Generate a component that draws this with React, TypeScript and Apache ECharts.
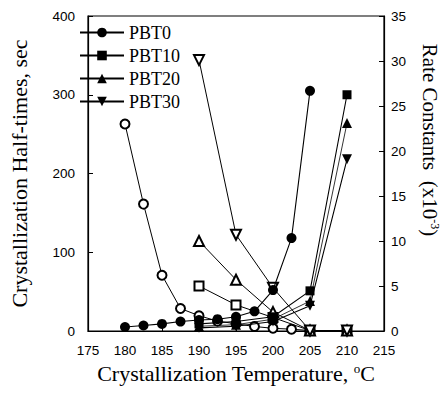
import React, { useEffect, useRef } from "react";
import * as echarts from "echarts";

// Crystallization temperatures (°C)
const tempsPBT0 = [180, 182.5, 185, 187.5, 190, 192.5, 195, 197.5, 200, 202.5, 205];
const tempsBlend = [190, 195, 200, 205, 210];

// Half-times (sec), left axis
const halfPBT0 = [5, 7, 9, 12, 14, 15, 18, 25, 52, 118, 305];
const halfPBT10 = [9, 12, 18, 51, 300];
const halfPBT20 = [6, 8, 15, 38, 264];
const halfPBT30 = [4, 6, 12, 32, 218];

// Rate constants (x10^-3), right axis
const ratePBT0 = [23.0, 14.1, 6.2, 2.5, 1.7, 1.1, 0.8, 0.5, 0.3, 0.2, 0.05];
const ratePBT10 = [5.0, 2.9, 1.5, 0.05, 0.05];
const ratePBT20 = [10.0, 5.7, 2.1, 0.05, 0.05];
const ratePBT30 = [30.1, 10.7, 4.8, 0.05, 0.05];

const seriesNames = ["PBT0", "PBT10", "PBT20", "PBT30"];
const xTicks = { min: 175, max: 215, interval: 5 };
const leftTicks = { min: 0, max: 400, interval: 100 };
const rightTicks = { min: 0, max: 35, interval: 5 };

const pairs = (xs: number[], ys: number[]) => xs.map((x, i) => [x, ys[i]]);

export default function App() {
  const ref = useRef<HTMLDivElement>(null);

  useEffect(() => {
    if (!ref.current) return;
    const chart = echarts.init(ref.current, undefined, { renderer: "svg" });

    const serif = "Liberation Serif";
    const sans = "Liberation Sans";

    const filled = (name: string, xs: number[], ys: number[], symbol: string, size: number, rotate = 0, width = 1.1) => ({
      name,
      type: "line",
      yAxisIndex: 0,
      data: pairs(xs, ys),
      symbol,
      symbolSize: size,
      symbolRotate: rotate,
      showSymbol: true,
      lineStyle: { color: "#000", width },
      itemStyle: { color: "#000", borderColor: "#000", borderWidth: 0 },
      z: 3,
    });

    const open = (name: string, xs: number[], ys: number[], symbol: string, size: number, rotate = 0) => ({
      name,
      type: "line",
      yAxisIndex: 1,
      data: pairs(xs, ys),
      symbol,
      symbolSize: size,
      symbolRotate: rotate,
      showSymbol: true,
      lineStyle: { color: "#000", width: 1 },
      itemStyle: { color: "#000", borderColor: "#000", borderWidth: 1 },
      z: 2,
    });

    chart.setOption({
      animation: false,
      backgroundColor: "#fff",
      grid: { left: 69, right: 61, top: 16, bottom: 64, show: true, borderColor: "#000", borderWidth: 1.2, backgroundColor: "transparent" },
      legend: {
        data: seriesNames,
        orient: "vertical",
        left: 74,
        top: 18,
        itemWidth: 44,
        itemHeight: 12,
        itemGap: 4,
        textStyle: { fontFamily: serif, fontSize: 18, color: "#000", lineHeight: 19 },
        selectedMode: false,
      },
      xAxis: {
        type: "value",
        min: xTicks.min,
        max: xTicks.max,
        interval: xTicks.interval,
        name: "Crystallization Temperature, {sup|o}C",
        nameLocation: "middle",
        nameGap: 25,
        nameTextStyle: {
          fontFamily: serif,
          fontSize: 22,
          color: "#000",
          rich: { sup: { fontFamily: serif, fontSize: 13, color: "#000", verticalAlign: "top", padding: [0, 0, 10, 0] } },
        },
        axisLine: { lineStyle: { color: "#000", width: 1.2 } },
        axisTick: { inside: true, length: 5, lineStyle: { color: "#000" } },
        axisLabel: { fontFamily: sans, fontSize: 13.5, color: "#000", margin: 12 },
        splitLine: { show: false },
      },
      yAxis: [
        {
          type: "value",
          position: "left",
          min: leftTicks.min,
          max: leftTicks.max,
          interval: leftTicks.interval,
          name: "Crystallization Half-times, sec",
          nameLocation: "middle",
          nameGap: 58,
          nameTextStyle: { fontFamily: serif, fontSize: 22, color: "#000" },
          axisLine: { show: true, lineStyle: { color: "#000", width: 1.2 } },
          axisTick: { show: true, inside: true, length: 5, lineStyle: { color: "#000" } },
          axisLabel: { fontFamily: sans, fontSize: 13.5, color: "#000", margin: 13 },
          splitLine: { show: false },
        },
        {
          type: "value",
          position: "right",
          min: rightTicks.min,
          max: rightTicks.max,
          interval: rightTicks.interval,
          axisLine: { show: true, lineStyle: { color: "#000", width: 1.2 } },
          axisTick: { show: true, inside: true, length: 5, lineStyle: { color: "#000" } },
          axisLabel: { fontFamily: sans, fontSize: 13.5, color: "#000", margin: 7 },
          splitLine: { show: false },
        },
      ],
      graphic: [
        {
          type: "text",
          x: 430,
          y: 140,
          rotation: -Math.PI / 2,
          style: {
            text: "Rate Constants  (x10{sup|-3})",
            fontFamily: serif,
            fontSize: 21,
            fill: "#000",
            align: "center",
            verticalAlign: "middle",
            rich: { sup: { fontFamily: serif, fontSize: 12, fill: "#000", verticalAlign: "top", padding: [0, 0, 10, 0] } },
          },
        },
      ],
      series: [
        filled("PBT0", tempsPBT0, halfPBT0, "circle", 10),
        filled("PBT10", tempsBlend, halfPBT10, "rect", 9),
        filled("PBT20", tempsBlend, halfPBT20, "triangle", 10, 0, 0.8),
        filled("PBT30", tempsBlend, halfPBT30, "triangle", 10, 180),
        open("k PBT0", tempsPBT0, ratePBT0, "emptyCircle", 9),
        open("k PBT10", tempsBlend, ratePBT10, "emptyRect", 9),
        open("k PBT20", tempsBlend, ratePBT20, "emptyTriangle", 10),
        open("k PBT30", tempsBlend, ratePBT30, "emptyTriangle", 10, 180),
      ],
    });

    return () => chart.dispose();
  }, []);

  return <div ref={ref} style={{ position: "fixed", left: 0, top: 0, width: 445, height: 395 }} />;
}
